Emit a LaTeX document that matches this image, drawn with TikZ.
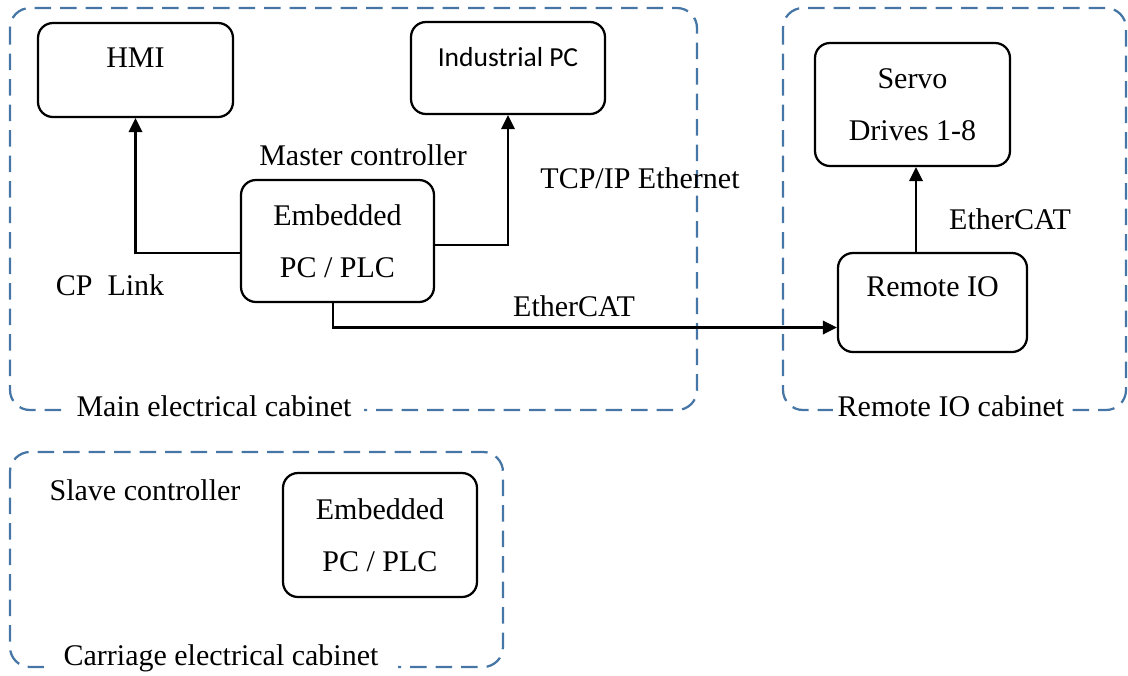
\documentclass[tikz,border=0pt]{standalone}
\usepackage{fontspec}
\setmainfont{Liberation Serif}
\newfontfamily\calib{Carlito}
\usetikzlibrary{arrows.meta}
\definecolor{cabblue}{RGB}{70,118,165}
\begin{document}
\begin{tikzpicture}
	[	x=0.4pt,y=-0.4pt,
	box/.style={rectangle,draw=black,line width=0.9pt,rounded corners=6pt,inner sep=0pt,align=center,font=\fontsize{12}{20.8}\selectfont},
	plain/.style={draw=none,fill=none,inner sep=0pt,font=\fontsize{12}{14}\selectfont},
	cab/.style={draw=cabblue,line width=0.9pt,dash pattern=on 6.6pt off 3.6pt,rounded corners=8pt},
	cabname/.style={plain,fill=white,inner xsep=5pt,inner ysep=1pt},
	conn/.style={line width=0.9pt,-{Triangle[length=5.6pt,width=5.4pt]}}
	]
	\useasboundingbox (0,0) rectangle (1128,675);

	% cabinets
	\draw[cab] (10,8) rectangle (697,410);
	\draw[cab] (783,8) rectangle (1126,410);
	\draw[cab] (10,452) rectangle (503,667);
	\node[cabname] (maincab) at (214,406) {Main electrical cabinet};
	\node[cabname,inner xsep=2pt] (remcab) at (951,406) {Remote IO cabinet};
	\node[cabname,inner xsep=8pt] (carcab) at (221,658) {Carriage electrical cabinet};

	% boxes
	\node[box,minimum width=78pt,minimum height=37.6pt] (hmi) at (135.5,70){};
	\node[box,minimum width=77.6pt,minimum height=36.8pt] (ipc) at (508,68){};
	\node[box,minimum width=77.2pt,minimum height=48.8pt] (master) at (337.5,241){Embedded\\PC / PLC};
	\node[box,minimum width=78pt,minimum height=49.2pt] (servo) at (912.5,104.5){Servo\\Drives 1-8};
	\node[box,minimum width=75.6pt,minimum height=39.6pt] (rio) at (932.5,302.5){};
	\node[box,minimum width=77.6pt,minimum height=49.6pt] (slave) at (380,535){Embedded\\PC / PLC};

\node[plain] (hmitext) at (135.5,58){HMI};
\node[plain,font=\calib\fontsize{11}{13}\selectfont] (ipctext) at (508,57){Industrial PC};
\node[plain] (riotext) at (932.5,287){Remote IO};

\node[plain] (mastername) at (363,155){Master controller};
\node[plain] (slavename) at (145,490){Slave controller};
\node[plain] (cplink) at (110,285){CP\ \ Link};
\node[plain] (tcpip) at (640,178){TCP/IP Ethernet};
\node[plain] (ecat1) at (574,306){EtherCAT};
\node[plain] (ecat2) at (1010,219){EtherCAT};

	% links
	\draw[conn] ([yshift=-4.8pt]master.west) -| (hmi.south);
	\draw[conn] ([yshift=-1.6pt]master.east) -| (ipc.south);
	\draw[conn] ([xshift=-1.8pt]master.south) |- ([yshift=-10pt]rio.west);
	\draw[conn] ([xshift=-6.6pt]rio.north) -- ([xshift=-6.6pt]rio.north |- servo.south);
\end{tikzpicture}
\end{document}
